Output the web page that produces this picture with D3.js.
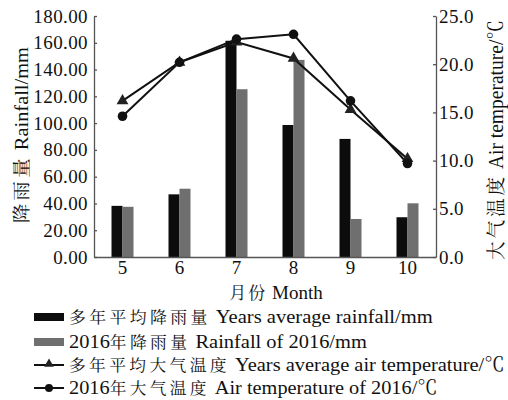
<!DOCTYPE html>
<html><head><meta charset="utf-8">
<script src="https://cdn.jsdelivr.net/npm/d3@7/dist/d3.min.js"></script>
<style>
html,body{margin:0;padding:0;background:#fff;}
svg{display:block;}
svg text{font-family:"Liberation Serif","Noto Serif CJK SC","Noto Sans CJK SC",serif;}
</style></head>
<body><svg id="c" width="508" height="400"></svg>
<script>
const months = ["5","6","7","8","9","10"];
const rainAvg = [38.2, 46.8, 161.5, 98.6, 88.2, 29.7];
const rain2016 = [37.5, 51.0, 125.3, 147.2, 28.4, 40.1];
const tempAvg = [16.2, 20.2, 22.3, 20.6, 15.3, 10.2];
const temp2016 = [14.6, 20.2, 22.6, 23.1, 16.2, 9.7];
const rainTicks = [0,20,40,60,80,100,120,140,160,180];
const tempTicks = [0,5,10,15,20,25];
const leftTitle = "降雨量 Rainfall/mm";
const rightTitle = "大气温度 Air temperature/℃";
const xTitle = "月份 Month";
const legendLabels = [
  "多年平均降雨量 Years average rainfall/mm",
  "2016年降雨量 Rainfall of 2016/mm",
  "多年平均大气温度 Years average air temperature/℃",
  "2016年大气温度 Air temperature of 2016/℃"
];

const svg = d3.select("#c");
const L = 94, R = 436, T = 16, B = 257;
const x = d3.scaleBand().domain(months).range([L, R]).padding(0);
const yR = d3.scaleLinear().domain([0,180]).range([B, T]);
const yT = d3.scaleLinear().domain([0,25]).range([B, T]);
const axisColor = "#555";
const barW = 11;
const FONT = '"Liberation Serif","Noto Serif CJK SC","Noto Sans CJK SC",serif';

function mixed(sel, str, latinSize, cjkSize, cjkSpacing){
  const runs = str.match(/[\u3000-\u9fff]+|[^\u3000-\u9fff]+/g);
  runs.forEach(r=>{
    const isC = /[\u3000-\u9fff]/.test(r);
    const t = sel.append("tspan").text(r).attr("font-family", FONT);
    if(isC){ t.attr("font-size", cjkSize).attr("letter-spacing", cjkSpacing); }
    else { t.attr("font-size", latinSize); }
  });
}
function fit(t, target){
  const w = t.node().getComputedTextLength();
  return w > 0 ? target / w : 1;
}

// bars
svg.append("g").selectAll("rect").data(months).join("rect")
  .attr("x", d=> x(d)+x.bandwidth()/2 - barW)
  .attr("y", (d,i)=> yR(rainAvg[i]))
  .attr("width", barW)
  .attr("height", (d,i)=> B - yR(rainAvg[i]))
  .attr("fill", "#0c0c0c");
svg.append("g").selectAll("rect").data(months).join("rect")
  .attr("x", d=> x(d)+x.bandwidth()/2)
  .attr("y", (d,i)=> yR(rain2016[i]))
  .attr("width", barW)
  .attr("height", (d,i)=> B - yR(rain2016[i]))
  .attr("fill", "#6f6f6f");

// axes
const gl = svg.append("g").attr("transform",`translate(${L},0)`)
  .call(d3.axisLeft(yR).tickValues(rainTicks).tickFormat(d3.format(".2f")).tickSizeInner(-3).tickSizeOuter(0).tickPadding(6));
const gr = svg.append("g").attr("transform",`translate(${R},0)`)
  .call(d3.axisRight(yT).tickValues(tempTicks).tickFormat(d3.format(".1f")).tickSizeInner(-3).tickSizeOuter(0).tickPadding(3));
const gb = svg.append("g").attr("transform",`translate(0,${B})`)
  .call(d3.axisBottom(x).tickSize(0).tickPadding(3));
[gl,gr,gb].forEach(g=>{
  g.attr("font-family", FONT);
  g.selectAll(".domain").attr("stroke", axisColor).attr("stroke-width",1.3);
  g.selectAll(".tick line").attr("stroke", axisColor).attr("stroke-width",1.3);
  g.selectAll("text").attr("font-size",19).attr("fill","#111").attr("font-family", FONT);
});
gl.selectAll(".tick text").attr("letter-spacing",0.4);
gr.selectAll(".tick text").attr("letter-spacing",0.4);

// lines
const lineT = d3.line().x((d,i)=> x(months[i])+x.bandwidth()/2).y(d=> yT(d));
svg.append("path").datum(tempAvg).attr("d", lineT).attr("fill","none").attr("stroke","#111").attr("stroke-width",2);
svg.append("path").datum(temp2016).attr("d", lineT).attr("fill","none").attr("stroke","#111").attr("stroke-width",2);
const tri = d3.symbol().type(d3.symbolTriangle).size(60);
svg.append("g").selectAll("path").data(tempAvg).join("path")
  .attr("d", tri)
  .attr("transform",(d,i)=>`translate(${x(months[i])+x.bandwidth()/2},${yT(d)})`)
  .attr("fill","#222");
svg.append("g").selectAll("circle").data(temp2016).join("circle")
  .attr("cx",(d,i)=> x(months[i])+x.bandwidth()/2)
  .attr("cy", d=> yT(d)).attr("r",4.8).attr("fill","#111");

// axis titles
const ltg = svg.append("g");
const lt = ltg.append("text").attr("text-anchor","middle").attr("fill","#111");
mixed(lt, leftTitle, 19, 18, 3);
ltg.attr("transform",`translate(28,135) rotate(-90) scale(${fit(lt,176)},1)`);
const rtg = svg.append("g");
const rt = rtg.append("text").attr("text-anchor","middle").attr("fill","#111");
mixed(rt, rightTitle, 20, 19, 3);
rtg.attr("transform",`translate(503,140) rotate(-90) scale(${fit(rt,240)},1)`);
const xt = svg.append("text").attr("x",276).attr("y",299)
  .attr("text-anchor","middle").attr("fill","#111");
mixed(xt, xTitle, 19, 17, 2);

// legend
const rows = [317, 342, 365, 388];
const legendEnds = [433, 367, 505, 438];
const lg = svg.append("g");
lg.append("rect").attr("x",34).attr("y",rows[0]-4).attr("width",30).attr("height",8).attr("fill","#0c0c0c");
lg.append("rect").attr("x",34).attr("y",rows[1]-4).attr("width",30).attr("height",8).attr("fill","#6f6f6f");
[2,3].forEach(k=>{
  lg.append("line").attr("x1",34).attr("x2",64).attr("y1",rows[k]).attr("y2",rows[k]).attr("stroke","#111").attr("stroke-width",2);
});
lg.append("path").attr("d", d3.symbol().type(d3.symbolTriangle).size(40)).attr("transform",`translate(49,${rows[2]-1})`).attr("fill","#222");
lg.append("circle").attr("cx",49).attr("cy",rows[3]).attr("r",4).attr("fill","#111");
legendLabels.forEach((s,k)=>{
  const g = lg.append("g");
  const t = g.append("text").attr("x",0).attr("y",0).attr("fill","#111");
  mixed(t, s, 19.5, 16, 3.2);
  g.attr("transform",`translate(69,${rows[k]+6}) scale(${fit(t, legendEnds[k]-69)},1)`);
});
</script></body></html>
